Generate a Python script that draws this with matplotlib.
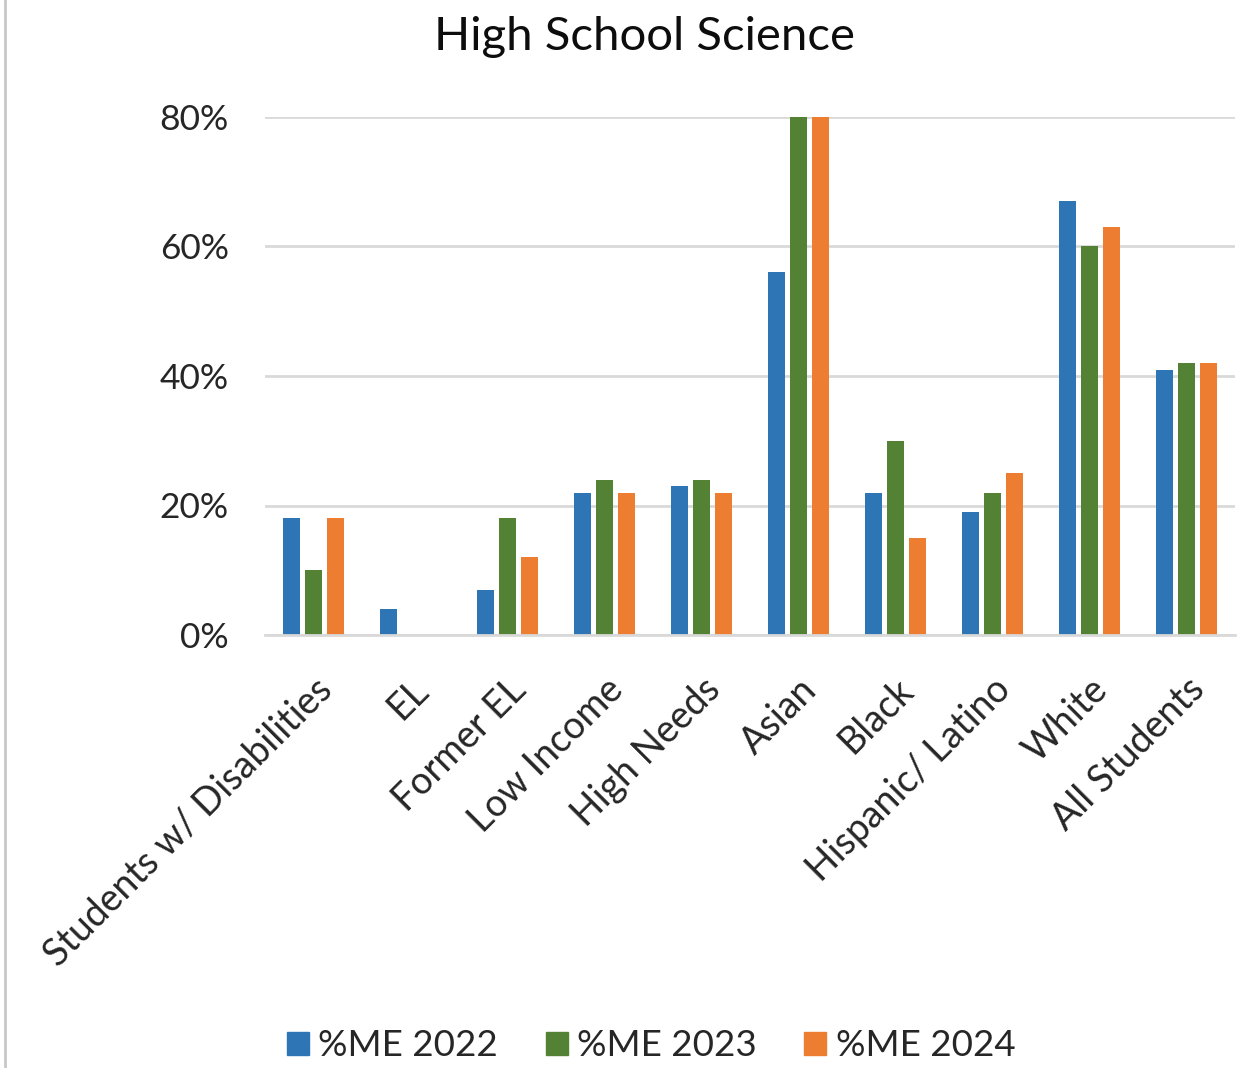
import matplotlib
matplotlib.use("Agg")
import matplotlib.pyplot as plt
import numpy as np
from matplotlib.lines import Line2D

plt.rcParams['font.family'] = ['Lato', 'DejaVu Sans']

categories = ["Students w/ Disabilities", "EL", "Former EL", "Low Income", "High Needs",
              "Asian", "Black", "Hispanic/ Latino", "White", "All Students"]
series_names = ["%ME 2022", "%ME 2023", "%ME 2024"]
me_2022 = [18, 4, 7, 22, 23, 56, 22, 19, 67, 41]
me_2023 = [10, 0, 18, 24, 24, 80, 30, 22, 60, 42]
me_2024 = [18, 0, 12, 22, 22, 80, 15, 25, 63, 42]
yticks = [0, 20, 40, 60, 80]
colors = ["#2E75B6", "#548235", "#ED7D31"]

fig = plt.figure(figsize=(12.37, 10.68), dpi=100)
ax = fig.add_axes([265/1237, 1-635/1068, 970/1237, (635-117)/1068])

x = np.arange(len(categories))
w = 0.175
off = 0.227
for i, (vals, c, n) in enumerate(zip([me_2022, me_2023, me_2024], colors, series_names)):
    ax.bar(x + (i-1)*off, vals, width=w, color=c, label=n, zorder=3)

ax.set_xlim(-0.5, len(categories)-0.5)
ax.set_ylim(0, 80)
ax.set_yticks(yticks)
ax.set_yticklabels([f"{t}%" for t in yticks], fontsize=25.5, color="#262626")
ax.yaxis.grid(True, color="#d9d9d9", linewidth=2, zorder=0)
ax.set_xticks(x)
ax.set_xticklabels(categories, rotation=45, ha="right", rotation_mode="anchor",
                   fontsize=27, color="#262626")
ax.tick_params(axis="both", length=0)
ax.tick_params(axis="y", pad=26)
ax.tick_params(axis="x", pad=26)
for s in ["top", "right", "left"]:
    ax.spines[s].set_visible(False)
ax.spines["bottom"].set_color("#d9d9d9")
ax.spines["bottom"].set_linewidth(2)
ax.spines["bottom"].set_zorder(4)

fig.text(645/1237, 1-37/1068, "High School Science", ha="center", va="center",
         fontsize=34, color="#0d0d0d")

handles = [plt.Rectangle((0, 0), 1, 1, color=c) for c in colors]
fig.legend(handles, series_names, loc="center", bbox_to_anchor=(651/1237, 1-1046/1068),
           ncol=3, frameon=False, fontsize=26.5, handlelength=0.6, handleheight=0.6,
           handletextpad=0.25, columnspacing=1.3, labelcolor="#262626")

fig.add_artist(Line2D([5/1237, 5/1237], [0, 1], color="#c8c8c8", linewidth=2,
                      transform=fig.transFigure))

fig.savefig("out.png", dpi=100, facecolor="white")
